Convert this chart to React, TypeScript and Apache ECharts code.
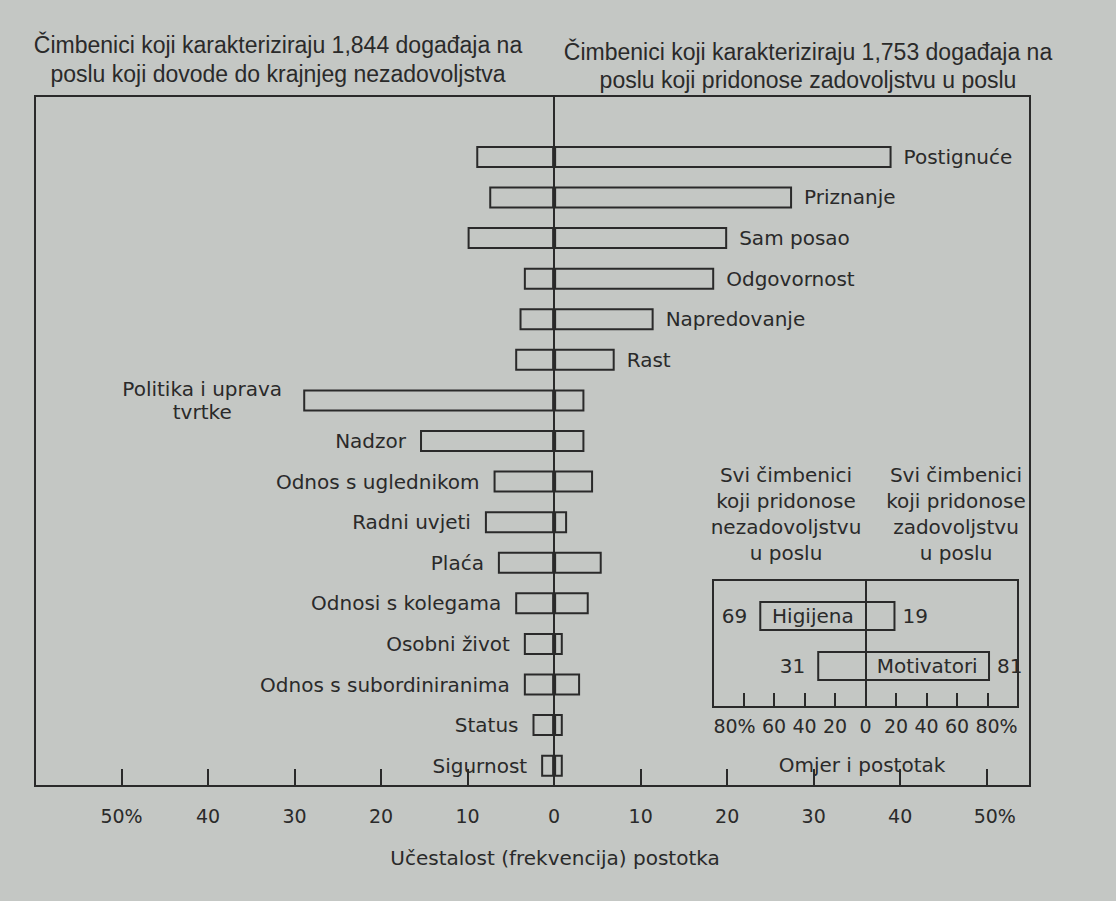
import React, { useEffect, useRef } from "react";
import * as echarts from "echarts";

// Main chart data (percent of events)
const factors = [
  "Postignuće",
  "Priznanje",
  "Sam posao",
  "Odgovornost",
  "Napredovanje",
  "Rast",
  "Politika i uprava\ntvrtke",
  "Nadzor",
  "Odnos s uglednikom",
  "Radni uvjeti",
  "Plaća",
  "Odnosi s kolegama",
  "Osobni život",
  "Odnos s subordiniranima",
  "Status",
  "Sigurnost",
];
const dissatisfaction = [9, 7.5, 10, 3.5, 4, 4.5, 29, 15.5, 7, 8, 6.5, 4.5, 3.5, 3.5, 2.5, 1.5];
const satisfaction = [39, 27.5, 20, 18.5, 11.5, 7, 3.5, 3.5, 4.5, 1.5, 5.5, 4, 1, 3, 1, 1];

// Inset data (ratio and percent)
const insetGroups = ["Higijena", "Motivatori"];
const insetDis = [69, 31];
const insetSat = [19, 81];

const titleLeft = ["Čimbenici koji karakteriziraju 1,844 događaja na", "poslu koji dovode do krajnjeg nezadovoljstva"];
const titleRight = ["Čimbenici koji karakteriziraju 1,753 događaja na", "poslu koji pridonose zadovoljstvu u poslu"];
const insetHeadLeft = ["Svi čimbenici", "koji pridonose", "nezadovoljstvu", "u poslu"];
const insetHeadRight = ["Svi čimbenici", "koji pridonose", "zadovoljstvu", "u poslu"];
const axisTitle = "Učestalost (frekvencija) postotka";
const insetAxisTitle = "Omjer i postotak";

const INK = "#2a2a2a";
const BG = "#c4c7c4";
const FONT = "DejaVu Sans";

export default function App() {
  const ref = useRef<HTMLDivElement>(null);
  useEffect(() => {
    if (!ref.current) return;
    const chart = echarts.init(ref.current, undefined, { renderer: "svg" });

    const cats = ["", ...factors];
    const motivator = factors.map((_, i) => satisfaction[i] > dissatisfaction[i]);

    const negData: any[] = [null];
    const posData: any[] = [null];
    factors.forEach((f, i) => {
      const isTwoLine = f.includes("\n");
      negData.push({
        value: -dissatisfaction[i],
        label: motivator[i]
          ? { show: false }
          : {
              show: true,
              position: "left",
              distance: isTwoLine ? 101 : 14,
              align: isTwoLine ? "center" : "right",
              lineHeight: 23,
              formatter: () => f,
            },
      });
      posData.push({
        value: satisfaction[i],
        label: motivator[i]
          ? { show: true, position: "right", distance: 12, formatter: () => f }
          : { show: false },
      });
    });

    const barStyle = { color: "rgba(0,0,0,0)", borderColor: INK, borderWidth: 2 };
    const labelStyle = { color: INK, fontFamily: FONT, fontSize: 20 };

    const textLines = (lines: string[], cx: number, y0: number, lh: number, size: number, family: string) =>
      lines.map((t, k) => ({
        type: "text",
        x: cx,
        y: y0 + k * lh,
        style: { text: t, fill: INK, font: `${size}px "${family}"`, textAlign: "center", textVerticalAlign: "middle" },
      }));

    const option: any = {
      animation: false,
      backgroundColor: BG,
      grid: [
        { left: 35, right: 86, top: 96, bottom: 115, show: true, borderColor: INK, borderWidth: 2, backgroundColor: "transparent" },
        { left: 713, width: 305, top: 580, height: 127, show: true, borderColor: INK, borderWidth: 2, backgroundColor: "transparent" },
      ],
      xAxis: [
        {
          type: "value",
          gridIndex: 0,
          min: -60,
          max: 55,
          interval: 10,
          axisLine: { show: true, onZero: false, lineStyle: { color: INK, width: 2 } },
          axisTick: { show: true, inside: true, length: 17, lineStyle: { color: INK, width: 2 } },
          splitLine: { show: false },
          axisLabel: {
            margin: 20,
            color: INK,
            fontFamily: FONT,
            fontSize: 19,
            formatter: (v: number) => {
              if (Math.abs(v) > 50) return "";
              if (v === 50) return "{r|50%}";
              if (v === -50) return "50%";
              return String(Math.abs(v));
            },
            rich: { r: { padding: [0, 0, 0, 16], color: INK, fontFamily: FONT, fontSize: 19 } },
          },
        },
        {
          type: "value",
          gridIndex: 1,
          min: -100,
          max: 100,
          interval: 20,
          axisLine: { show: true, onZero: false, lineStyle: { color: INK, width: 2 } },
          axisTick: { show: true, inside: true, length: 14, lineStyle: { color: INK, width: 2 } },
          splitLine: { show: false },
          axisLabel: {
            margin: 9,
            color: INK,
            fontFamily: FONT,
            fontSize: 19,
            formatter: (v: number) => {
              if (Math.abs(v) >= 100) return "";
              if (v === -80) return "{l|80%}";
              if (v === 80) return "{r|80%}";
              return String(Math.abs(v));
            },
            rich: {
              l: { padding: [0, 18, 0, 0], color: INK, fontFamily: FONT, fontSize: 19 },
              r: { padding: [0, 0, 0, 18], color: INK, fontFamily: FONT, fontSize: 19 },
            },
          },
        },
      ],
      yAxis: [
        {
          type: "category",
          gridIndex: 0,
          data: cats,
          inverse: true,
          axisLine: { show: true, onZero: true, lineStyle: { color: INK, width: 2 } },
          axisTick: { show: false },
          axisLabel: { show: false },
          splitLine: { show: false },
        },
        {
          type: "value",
          gridIndex: 1,
          min: -0.72,
          max: 1.82,
          inverse: true,
          axisLine: { show: true, onZero: true, lineStyle: { color: INK, width: 2 } },
          axisTick: { show: false },
          axisLabel: { show: false },
          splitLine: { show: false },
        },
      ],
      series: [
        {
          type: "bar",
          xAxisIndex: 0,
          yAxisIndex: 0,
          stack: "f",
          barWidth: 22,
          data: negData,
          itemStyle: barStyle,
          label: labelStyle,
          z: 3,
        },
        {
          type: "bar",
          xAxisIndex: 0,
          yAxisIndex: 0,
          stack: "f",
          barWidth: 22,
          data: posData,
          itemStyle: barStyle,
          label: labelStyle,
          z: 3,
        },
        {
          type: "custom",
          xAxisIndex: 1,
          yAxisIndex: 1,
          data: insetGroups.map((g, i) => [insetDis[i], insetSat[i], i]),
          renderItem: (params: any, api: any) => {
            const d = api.value(0);
            const s = api.value(1);
            const row = api.value(2);
            const l = api.coord([-d, row]);
            const r = api.coord([s, row]);
            const z = api.coord([0, row]);
            const h = 28;
            const font = `20px "${FONT}"`;
            const nameX = d > s ? (l[0] + z[0]) / 2 : (z[0] + r[0]) / 2;
            return {
              type: "group",
              children: [
                {
                  type: "rect",
                  shape: { x: l[0], y: l[1] - h / 2, width: r[0] - l[0], height: h },
                  style: { fill: "none", stroke: INK, lineWidth: 2 },
                },
                {
                  type: "text",
                  x: l[0] - 13,
                  y: l[1],
                  style: { text: String(d), fill: INK, font, textAlign: "right", textVerticalAlign: "middle" },
                },
                {
                  type: "text",
                  x: r[0] + 8,
                  y: r[1],
                  style: { text: String(s), fill: INK, font, textAlign: "left", textVerticalAlign: "middle" },
                },
                {
                  type: "text",
                  x: nameX,
                  y: l[1],
                  style: { text: insetGroups[params.dataIndex], fill: INK, font, textAlign: "center", textVerticalAlign: "middle" },
                },
              ],
            };
          },
        },
      ],
      graphic: [
        ...textLines(titleLeft, 278, 45, 29, 23, "Liberation Sans"),
        ...textLines(titleRight, 808, 52, 28, 23, "Liberation Sans"),
        ...textLines(insetHeadLeft, 786, 475, 26, 20, FONT),
        ...textLines(insetHeadRight, 956, 475, 26, 20, FONT),
        ...textLines([insetAxisTitle], 862, 765, 26, 20, FONT),
        ...textLines([axisTitle], 555, 858, 26, 20, FONT),
      ],
    };

    chart.setOption(option);
    return () => chart.dispose();
  }, []);

  return (
    <div
      ref={ref}
      style={{ position: "fixed", left: 0, top: 0, width: 1116, height: 901 }}
    />
  );
}
